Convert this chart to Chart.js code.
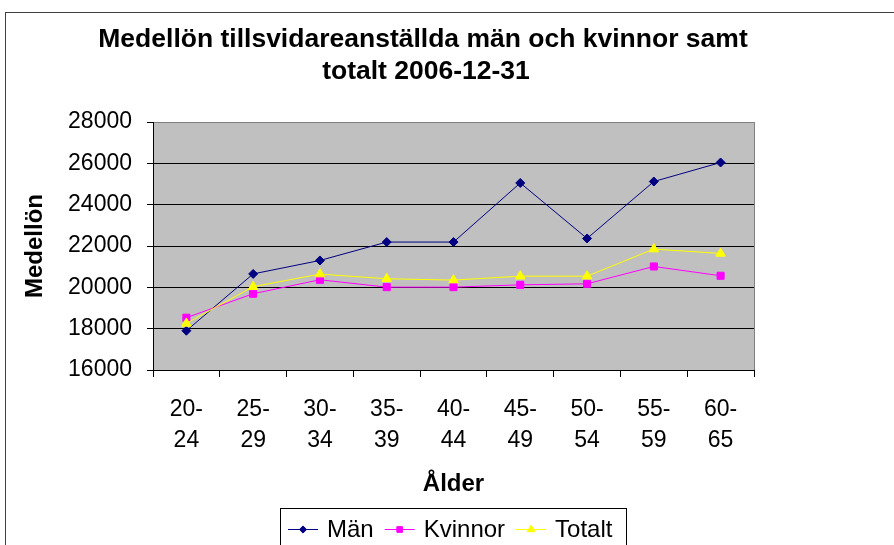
<!DOCTYPE html>
<html lang="sv">
<head>
<meta charset="UTF-8" />
<title>Medellön tillsvidareanställda män och kvinnor samt totalt 2006-12-31</title>
<script src="https://cdn.jsdelivr.net/npm/chart.js@4.4.0/dist/chart.umd.min.js"></script>
<style>
  html, body { margin: 0; padding: 0; background: #fff; overflow: hidden; }
  #wrap { width: 894px; height: 545px; }
</style>
</head>
<body>
<div id="wrap"><canvas id="salary-graph" width="894" height="545"></canvas></div>
<script>
  // data
  const ageGroups = [['20-', '24'], ['25-', '29'], ['30-', '34'], ['35-', '39'], ['40-', '44'],
                     ['45-', '49'], ['50-', '54'], ['55-', '59'], ['60-', '65']];
  const menValues   = [17900, 20650, 21300, 22190, 22190, 25050, 22365, 25120, 26040];
  const womenValues = [18530, 19690, 20365, 20010, 20010, 20120, 20170, 21010, 20560];
  const totalValues = [18255, 20030, 20640, 20415, 20350, 20540, 20540, 21850, 21640];
  const seriesNames = ['Män', 'Kvinnor', 'Totalt'];
  const yMin = 16000, yMax = 28000, yStep = 2000;
  const titleLines = ['Medellön tillsvidareanställda män och kvinnor samt', 'totalt 2006-12-31'];
  const xTitle = 'Ålder';
  const yTitle = 'Medellön';

  const FONT = "'Liberation Sans', Arial, sans-serif";

  // grey plot background, outer frame, title and boxed legend like the original
  const excelLook = {
    id: 'excelLook',
    beforeDraw(chart) {
      const ctx = chart.ctx, a = chart.chartArea;
      ctx.save();
      ctx.fillStyle = '#fff';
      ctx.fillRect(0, 0, chart.width, chart.height);
      ctx.fillStyle = '#c0c0c0';
      ctx.fillRect(a.left, a.top, a.right - a.left, a.bottom - a.top);
      ctx.restore();
    },
    beforeDatasetsDraw(chart) {
      const ctx = chart.ctx, a = chart.chartArea;
      ctx.save();
      ctx.strokeStyle = '#808080';
      ctx.lineWidth = 1;
      ctx.beginPath();
      ctx.moveTo(Math.round(a.right) + 0.5, a.top);
      ctx.lineTo(Math.round(a.right) + 0.5, a.bottom);
      ctx.stroke();
      ctx.restore();
    },
    afterDraw(chart) {
      const ctx = chart.ctx;
      ctx.save();

      // outer frame (cut off at the right and bottom)
      ctx.strokeStyle = '#404040';
      ctx.lineWidth = 1;
      ctx.strokeRect(5.5, 12.5, 1000, 1000);

      // title
      ctx.fillStyle = '#000';
      ctx.font = 'bold 26.5px ' + FONT;
      ctx.textAlign = 'center';
      ctx.textBaseline = 'alphabetic';
      ctx.fillText(titleLines[0], 423, 47);
      ctx.fillText(titleLines[1], 426, 78.5);

      // legend
      ctx.strokeStyle = '#000';
      ctx.strokeRect(280.5, 508.5, 346, 100);
      ctx.font = '24px ' + FONT;
      ctx.textAlign = 'left';
      let x = 288;
      const lineY = 529.5, textY = 536.5;
      chart.data.datasets.forEach(function (ds) {
        ctx.strokeStyle = ds.borderColor;
        ctx.lineWidth = ds.borderWidth;
        ctx.beginPath();
        ctx.moveTo(x, lineY);
        ctx.lineTo(x + 30, lineY);
        ctx.stroke();
        ctx.fillStyle = ds.backgroundColor;
        ctx.strokeStyle = ds.borderColor;
        Chart.helpers.drawPoint(ctx, {
          pointStyle: ds.pointStyle, radius: ds.pointRadius * 0.8,
          borderWidth: 1, rotation: 0
        }, x + 15, lineY);
        ctx.fillStyle = '#000';
        ctx.fillText(ds.label, x + 39, textY);
        x += 39 + ctx.measureText(ds.label).width + 11;
      });
      ctx.restore();
    }
  };

  const salaryChart = new Chart(document.getElementById('salary-graph'), {
    type: 'line',
    data: {
      labels: ageGroups,
      datasets: [{
        label: seriesNames[0],
        data: menValues,
        borderColor: '#000080',
        backgroundColor: '#000080',
        borderWidth: 1,
        pointStyle: 'rectRot',
        pointRadius: 4.5,
        pointBorderWidth: 1,
        order: 3
      }, {
        label: seriesNames[1],
        data: womenValues,
        borderColor: '#ff00ff',
        backgroundColor: '#ff00ff',
        borderWidth: 1,
        pointStyle: 'rect',
        pointRadius: 5,
        pointBorderWidth: 1,
        order: 2
      }, {
        label: seriesNames[2],
        data: totalValues,
        borderColor: '#ffff00',
        backgroundColor: '#ffff00',
        borderWidth: 1,
        pointStyle: 'triangle',
        pointRadius: 5.5,
        pointBorderWidth: 1,
        order: 1
      }]
    },
    options: {
      responsive: false,
      animation: false,
      devicePixelRatio: 1,
      events: [],
      layout: { padding: { left: 0, right: 140, top: 122, bottom: 20 } },
      plugins: {
        legend: { display: false },
        title: { display: false },
        tooltip: { enabled: false }
      },
      elements: { line: { tension: 0 } },
      scales: {
        x: {
          offset: true,
          grid: {
            display: true, drawOnChartArea: false, drawTicks: true,
            tickLength: 7, color: '#000', offset: true
          },
          border: { display: true, color: '#000' },
          ticks: {
            color: '#000', autoSkip: false, maxRotation: 0, padding: 17,
            font: { family: FONT, size: 23, lineHeight: 1.36 }
          },
          title: {
            display: true, text: xTitle, color: '#000',
            font: { family: FONT, size: 24, weight: 'bold' },
            padding: { top: 0, bottom: 26 }
          },
          afterFit(scale) { scale.height = 155; }
        },
        y: {
          min: yMin,
          max: yMax,
          grid: {
            color: ctx => (ctx.tick && ctx.tick.value === yMax ? '#808080' : '#000'),
            tickColor: '#000',
            tickLength: 6
          },
          border: { display: true, color: '#000' },
          ticks: {
            stepSize: yStep, color: '#000', padding: 15,
            font: { family: FONT, size: 23 },
            callback: value => String(value)
          },
          title: {
            display: true, text: yTitle, color: '#000',
            font: { family: FONT, size: 24, weight: 'bold' },
            padding: { top: 21, bottom: 0 }
          },
          afterFit(scale) { scale.width = 153; }
        }
      }
    },
    plugins: [excelLook]
  });
</script>
</body>
</html>
